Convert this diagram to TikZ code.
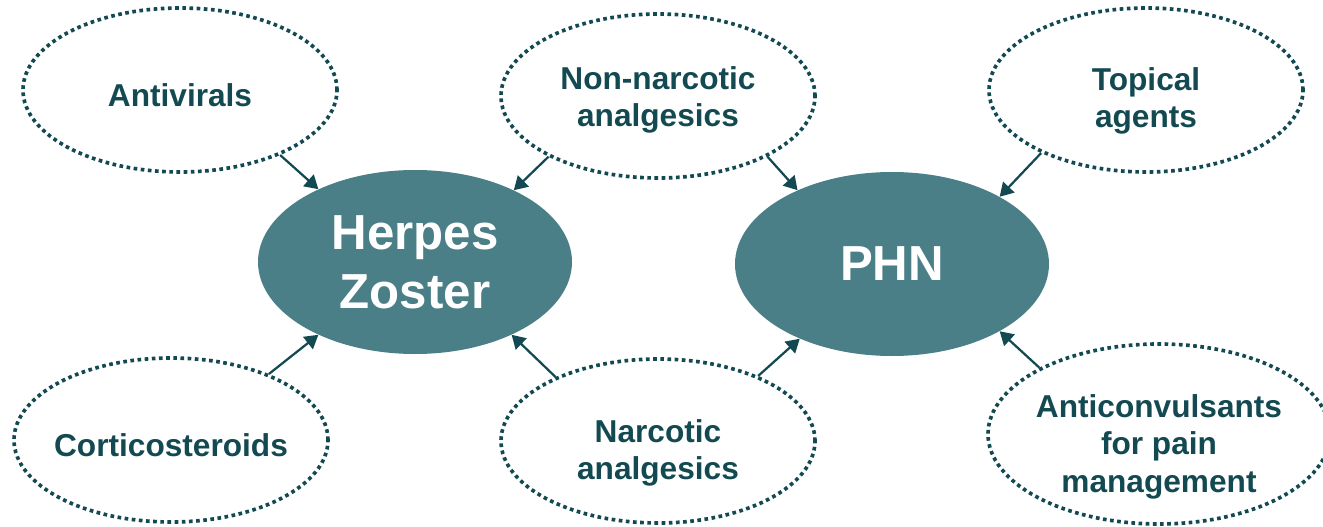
\documentclass[tikz,border=0pt]{standalone}
\usepackage{fontspec}
\setmainfont{Liberation Sans}
\usetikzlibrary{shapes.geometric,arrows.meta}
\definecolor{tealfill}{RGB}{74,127,135}
\definecolor{tealdark}{RGB}{19,74,82}
\begin{document}
\begin{tikzpicture}[font=\bfseries,
	drug/.style={ellipse,draw=tealdark,line width=2.6pt,dash pattern=on 2.6pt off 2.5pt,
		minimum width=7.85cm,minimum height=4.1cm,inner sep=-0.4cm,align=center,
		text=tealdark,font=\fontsize{22.5}{26.8}\selectfont\bfseries},
	oneline/.style={execute at begin node={\rule{0pt}{0.85cm}}},
	disease/.style={ellipse,fill=tealfill,minimum width=7.85cm,minimum height=4.6cm,
		inner sep=0,align=center,text=white,font=\fontsize{35}{42}\selectfont\bfseries},
	treats/.style={draw=tealdark,line width=1.6pt,-{Triangle[length=9.5pt,width=11pt]}}]
\useasboundingbox (0,0) rectangle (33.075,13.15);
\node[disease] (hz) at (10.375,6.6) {Herpes\\Zoster};
\node[disease] (phn) at (22.3,6.55) {PHN};
\node[drug,oneline] (antiv) at (4.5,10.9) {Antivirals};
\node[drug,text height=1.71cm] (nonnarc) at (16.45,10.75) {Non-narcotic\\analgesics};
\node[drug,text height=2.06cm] (topic) at (28.65,10.9) {Topical\\agents};
\node[drug,oneline] (cortico) at (4.275,2.15) {Corticosteroids};
\node[drug,text height=2.11cm] (narc) at (16.45,2.125) {Narcotic\\analgesics};
\node[drug,text height=3.1cm,minimum width=8.55cm,minimum height=4.5cm] (anticonv) at (28.975,2.3) {Anticonvulsants\\for pain\\management};
\draw[treats] (antiv.-33) -- (hz.143);
\draw[treats] (nonnarc.-151) -- (hz.36);
\draw[treats] (nonnarc.-29) -- (phn.142);
\draw[treats] (topic.-149) -- (phn.32);
\draw[treats] (cortico.34) -- (hz.-143);
\draw[treats] (narc.148) -- (hz.-37);
\draw[treats] (narc.33) -- (phn.-141);
\draw[treats] (anticonv.151) -- (phn.-32);
\end{tikzpicture}
\end{document}
